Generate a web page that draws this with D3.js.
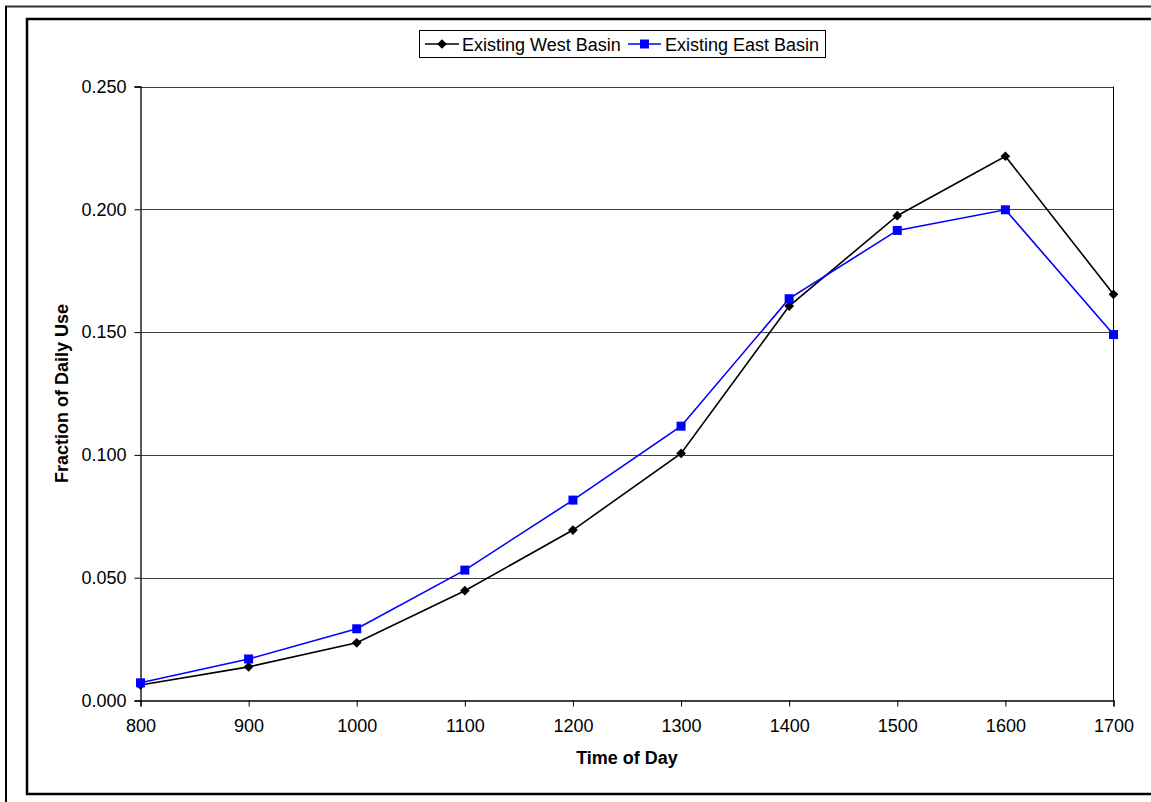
<!DOCTYPE html>
<html>
<head>
<meta charset="utf-8">
<script src="https://cdn.jsdelivr.net/npm/d3@7"></script>
<style>
  body { margin: 0; background: #fff; }
  svg { display: block; font-family: "Liberation Sans", Arial, sans-serif; }
</style>
</head>
<body>
<div id="chart"></div>
<script>
// values
var times = [800, 900, 1000, 1100, 1200, 1300, 1400, 1500, 1600, 1700];
var westBasin = [0.0063, 0.0137, 0.0235, 0.0447, 0.0694, 0.1006, 0.1606, 0.1974, 0.2216, 0.1654];
var eastBasin = [0.0072, 0.0169, 0.0292, 0.0531, 0.0816, 0.1117, 0.1636, 0.1914, 0.1998, 0.1490];
var yTicks = [0, 0.05, 0.1, 0.15, 0.2, 0.25];
var seriesNames = ["Existing West Basin", "Existing East Basin"];

const w = 1151;
const h = 802;

// plot area
const plotLeft = 140.5, plotRight = 1113.5, plotTop = 86.5, plotBottom = 700.5;

const svg = d3.select("#chart")
              .append("svg")
              .attr("width", w)
              .attr("height", h);

svg.append("rect").attr("width", w).attr("height", h).attr("fill", "#fff");

// outer frame lines
svg.append("line").attr("x1", 5).attr("x2", w).attr("y1", 6.5).attr("y2", 6.5)
   .attr("stroke", "#333").attr("stroke-width", 2);
svg.append("line").attr("x1", 6).attr("x2", 6).attr("y1", 6).attr("y2", h)
   .attr("stroke", "#000").attr("stroke-width", 2);
// chart area border (right edge runs off the page)
svg.append("rect").attr("x", 27).attr("y", 19).attr("width", 1140).attr("height", 775)
   .attr("fill", "none").attr("stroke", "#000").attr("stroke-width", 2.5);

var xScale = d3.scaleLinear().domain([800, 1700]).range([plotLeft, plotRight]);
var yScale = d3.scaleLinear().domain([0, 0.25]).range([plotBottom, plotTop]);

// gridlines
svg.append("g")
   .selectAll("line")
   .data(yTicks.filter(function(d){ return d > 0; }))
   .enter()
   .append("line")
   .attr("x1", plotLeft).attr("x2", plotRight)
   .attr("y1", function(d){ return Math.round(yScale(d)) + 0.5; })
   .attr("y2", function(d){ return Math.round(yScale(d)) + 0.5; })
   .attr("stroke", "#404040").attr("stroke-width", 1);

// right border of plot area
svg.append("line").attr("x1", plotRight).attr("x2", plotRight).attr("y1", plotTop).attr("y2", plotBottom)
   .attr("stroke", "#000").attr("stroke-width", 1);

// axes
const xAxis = d3.axisBottom(xScale).tickValues(times).tickSizeOuter(0).tickSize(6).tickPadding(13).tickFormat(d3.format("d"));
const yAxis = d3.axisLeft(yScale).tickValues(yTicks).tickSizeOuter(0).tickSize(6).tickPadding(8).tickFormat(d3.format(".3f"));

var gx = svg.append("g").attr("transform", "translate(0," + plotBottom + ")").call(xAxis);
var gy = svg.append("g").attr("transform", "translate(" + plotLeft + ",0)").call(yAxis);

[gx, gy].forEach(function(g){
  g.select(".domain").attr("stroke", "#000").attr("stroke-width", 1.3);
  g.selectAll(".tick line").attr("stroke", "#000");
  g.selectAll("text").attr("fill", "#000")
   .style("font-size", "18px").style("font-family", "Liberation Sans, Arial, sans-serif");
});

// series
var west = times.map(function(t, i){ return { x: t, y: westBasin[i] }; });
var east = times.map(function(t, i){ return { x: t, y: eastBasin[i] }; });

var line = d3.line()
  .x(function(d){ return xScale(d.x); })
  .y(function(d){ return yScale(d.y); });

svg.append("path").datum(west).attr("d", line)
   .attr("fill", "none").attr("stroke", "#000").attr("stroke-width", 1.6);
svg.append("path").datum(east).attr("d", line)
   .attr("fill", "none").attr("stroke", "#0000ff").attr("stroke-width", 1.6);

var diamond = d3.symbol().type(d3.symbolDiamond2).size(60);

svg.selectAll(".west-pt")
   .data(west)
   .enter()
   .append("path")
   .attr("class", "west-pt")
   .attr("d", diamond)
   .attr("transform", function(d){ return "translate(" + xScale(d.x) + "," + yScale(d.y) + ")"; })
   .attr("fill", "#000");

svg.selectAll(".east-pt")
   .data(east)
   .enter()
   .append("rect")
   .attr("class", "east-pt")
   .attr("x", function(d){ return xScale(d.x) - 4.5; })
   .attr("y", function(d){ return yScale(d.y) - 4.5; })
   .attr("width", 9).attr("height", 9)
   .attr("fill", "#0000ff");

// axis titles
svg.append("text")
   .attr("x", (plotLeft + plotRight) / 2)
   .attr("y", 763.5)
   .style("font-size", "18px").style("font-weight", "bold")
   .style("text-anchor", "middle")
   .text("Time of Day");

svg.append("text")
   .attr("transform", "translate(68," + (plotTop + plotBottom) / 2 + ") rotate(-90)")
   .style("font-size", "18px").style("font-weight", "bold")
   .style("text-anchor", "middle")
   .text("Fraction of Daily Use");

// legend
var legend = svg.append("g");
legend.append("rect").attr("x", 419.5).attr("y", 30.5).attr("width", 406).attr("height", 27)
      .attr("fill", "#fff").attr("stroke", "#000").attr("stroke-width", 1);

var ly = 44;
legend.append("line").attr("x1", 425).attr("x2", 459).attr("y1", ly).attr("y2", ly)
      .attr("stroke", "#000").attr("stroke-width", 1.6);
legend.append("path").attr("d", diamond).attr("transform", "translate(442," + ly + ")").attr("fill", "#000");
legend.append("text").attr("x", 462).attr("y", ly + 6.5).style("font-size", "18px").text(seriesNames[0]);

legend.append("line").attr("x1", 628).attr("x2", 661).attr("y1", ly).attr("y2", ly)
      .attr("stroke", "#0000ff").attr("stroke-width", 1.6);
legend.append("rect").attr("x", 640).attr("y", ly - 4.5).attr("width", 9).attr("height", 9).attr("fill", "#0000ff");
legend.append("text").attr("x", 665).attr("y", ly + 6.5).style("font-size", "18px").text(seriesNames[1]);
</script>
</body>
</html>
